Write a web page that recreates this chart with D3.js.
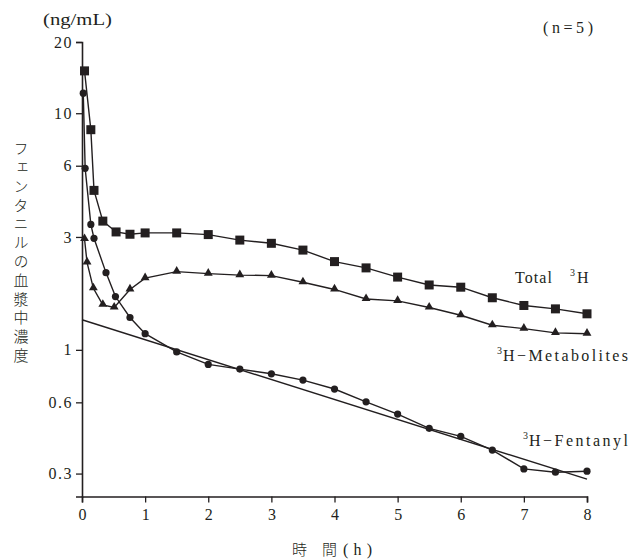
<!DOCTYPE html>
<html><head><meta charset="utf-8">
<script src="https://cdn.jsdelivr.net/npm/d3@7"></script>
<style>body{margin:0;background:#fff}svg{display:block}</style>
</head><body>
<svg id="c" width="642" height="560"></svg>
<script>
const xTicks = [0,1,2,3,4,5,6,7,8];
const yTicks = [20,10,6,3,1,0.6,0.3];
const yTickLabels = ["20","10","6","3","1","0.6","0.3"];

const totalT = [0.04,0.14,0.19,0.33,0.54,0.76,1,1.5,2,2.5,3,3.5,4,4.5,5,5.5,6,6.5,7,7.5,8];
const totalV = [15.1,8.52,4.72,3.50,3.15,3.08,3.12,3.12,3.07,2.91,2.82,2.64,2.36,2.22,2.03,1.88,1.84,1.66,1.54,1.49,1.42];

const metT = [0.04,0.08,0.18,0.33,0.51,0.76,1,1.5,2,2.5,3,3.5,4,4.5,5,5.5,6,6.5,7,7.5,8];
const metV = [2.94,2.34,1.82,1.55,1.51,1.80,2.01,2.14,2.10,2.07,2.06,1.93,1.80,1.64,1.61,1.51,1.40,1.27,1.23,1.18,1.17];

const fentT = [0.02,0.05,0.14,0.19,0.38,0.53,0.76,1,1.5,2,2.5,3,3.5,4,4.5,5,5.5,6,6.5,7,7.5,8];
const fentV = [12.15,5.85,3.39,2.96,2.12,1.68,1.37,1.17,0.98,0.868,0.829,0.792,0.745,0.683,0.603,0.535,0.466,0.431,0.377,0.314,0.304,0.307];

const fitT = [0,8];
const fitV = [1.34,0.284];

const yLabel = "フェンタニルの血漿中濃度";

const ink = "#231f20";
const serif = "Liberation Serif, DejaVu Serif, serif";
const cjk = "Noto Sans CJK JP, sans-serif";

const svg = d3.select("#c");
const x = d3.scaleLinear().domain([0,8]).range([82,587]);
const y = d3.scaleLog().domain([0.24,20]).range([496.5,42]);

// axes
const gx = svg.append("g").attr("transform","translate(0,"+y(0.24)+")")
  .call(d3.axisBottom(x).tickValues(xTicks).tickFormat(d3.format("d")).tickSize(6).tickPadding(6));
const gy = svg.append("g").attr("transform","translate("+x(0)+",0)")
  .call(d3.axisLeft(y).tickValues(yTicks).tickFormat((d,i)=>yTickLabels[i]).tickSize(6).tickPadding(3));
[gx,gy].forEach(g=>{
  g.attr("font-family",serif).attr("font-size",16);
  g.select(".domain").attr("stroke",ink).attr("stroke-width",1.6);
  g.selectAll(".tick line").attr("stroke",ink).attr("stroke-width",1.3);
  g.selectAll(".tick text").attr("fill",ink);
});
gy.selectAll(".tick text").attr("letter-spacing","1.5px");

// lines
const line = d3.line().x(d=>x(d[0])).y(d=>y(d[1]));
function series(T,V){return T.map((t,i)=>[t,V[i]]);}
const sTotal = series(totalT,totalV), sMet = series(metT,metV), sFent = series(fentT,fentV), sFit = series(fitT,fitV);
[sFit,sTotal,sMet,sFent].forEach(s=>{
  svg.append("path").datum(s).attr("d",line).attr("fill","none").attr("stroke",ink).attr("stroke-width",1.4);
});

// markers
svg.append("g").selectAll("rect").data(sTotal).join("rect")
  .attr("x",d=>x(d[0])-4.5).attr("y",d=>y(d[1])-4.5).attr("width",9).attr("height",9).attr("fill",ink);
svg.append("g").selectAll("path").data(sMet).join("path")
  .attr("transform",d=>"translate("+x(d[0])+","+(y(d[1])-0.5)+")")
  .attr("d",d3.symbol(d3.symbolTriangle,34)).attr("fill",ink);
svg.append("g").selectAll("circle").data(sFent).join("circle")
  .attr("cx",d=>x(d[0])).attr("cy",d=>y(d[1])).attr("r",3.6).attr("fill",ink);

// texts
function txt(xp,yp,s,size,fam){
  return svg.append("text").attr("x",xp).attr("y",yp).attr("fill",ink)
    .attr("font-family",fam||serif).attr("font-size",size||16).text(s);
}
txt(43,25,"(ng/mL)",16).attr("textLength",69).attr("lengthAdjust","spacingAndGlyphs");
txt(543,33,"(n=5)",16).attr("textLength",50).attr("lengthAdjust","spacing");

// series labels with superscript 3
txt(515,283,"Total",16).attr("textLength",37).attr("lengthAdjust","spacing");
txt(570,276,"3",10);
txt(577,283,"H",16);
txt(497,354,"3",10);
txt(503,361,"H−Metabolites",16).attr("textLength",125).attr("lengthAdjust","spacing");
txt(523,439,"3",10);
txt(529,446,"H−Fentanyl",16).attr("textLength",99).attr("lengthAdjust","spacing");

// y label vertical
svg.append("text").attr("x",21).attr("y",141).attr("fill",ink)
  .attr("font-family",cjk).attr("font-size",15).attr("font-weight",300)
  .style("writing-mode","vertical-rl").attr("letter-spacing","3.8px").text(yLabel);

// x label
txt(299.5,555,"時",15,cjk).attr("text-anchor","middle").attr("font-weight",300);
txt(329.5,555,"間",15,cjk).attr("text-anchor","middle").attr("font-weight",300);
txt(343,555,"(h)",16).attr("textLength",29).attr("lengthAdjust","spacing");
</script>
</body></html>
